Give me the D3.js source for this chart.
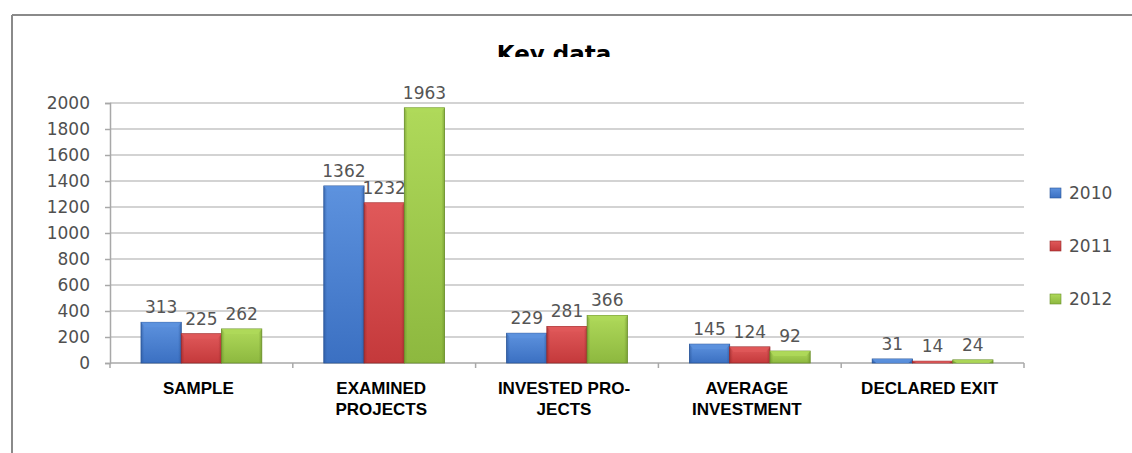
<!DOCTYPE html>
<html>
<head>
<meta charset="utf-8">
<script src="https://cdn.jsdelivr.net/npm/d3@7"></script>
<style>
  body { margin: 0; background: #fff; }
  svg { display: block; }
</style>
</head>
<body>
<div id="chart"></div>
<script>
// chart data
const categories = [["SAMPLE"], ["EXAMINED", "PROJECTS"], ["INVESTED PRO-", "JECTS"], ["AVERAGE", "INVESTMENT"], ["DECLARED EXIT"]];
const years = ["2010", "2011", "2012"];
const values2010 = [313, 1362, 229, 145, 31];
const values2011 = [225, 1232, 281, 124, 14];
const values2012 = [262, 1963, 366, 92, 24];
const yTicks = [0, 200, 400, 600, 800, 1000, 1200, 1400, 1600, 1800, 2000];

const width = 1132, height = 453;
const plot = { left: 110, right: 1024, top: 103, bottom: 363 };

// colors per year: [base, light, dark]
const colors = {
  "2010": ["#3b70c2", "#5d92de", "#2a5598"],
  "2011": ["#c4393b", "#e0595a", "#95282a"],
  "2012": ["#8db83f", "#afd95a", "#6a8f2b"]
};

const series = [values2010, values2011, values2012];

const svg = d3.select("#chart").append("svg")
  .attr("width", width)
  .attr("height", height);

const defs = svg.append("defs");
years.forEach(function (y) {
  const c = colors[y];
  const g = defs.append("linearGradient").attr("id", "grad" + y)
    .attr("x1", 0).attr("y1", 0).attr("x2", 0).attr("y2", 1);
  g.append("stop").attr("offset", "0%").attr("stop-color", c[1]);
  g.append("stop").attr("offset", "100%").attr("stop-color", c[0]);
  const h = defs.append("linearGradient").attr("id", "side" + y)
    .attr("x1", 0).attr("y1", 0).attr("x2", 1).attr("y2", 0);
  h.append("stop").attr("offset", "0%").attr("stop-color", c[2]).attr("stop-opacity", 0.6);
  h.append("stop").attr("offset", "8%").attr("stop-color", c[2]).attr("stop-opacity", 0);
  h.append("stop").attr("offset", "92%").attr("stop-color", c[2]).attr("stop-opacity", 0);
  h.append("stop").attr("offset", "100%").attr("stop-color", c[2]).attr("stop-opacity", 0.6);
});
defs.append("clipPath").attr("id", "titleClip")
  .append("rect").attr("x", 0).attr("y", 0).attr("width", width).attr("height", 57);

// outer frame
svg.append("line").attr("x1", 12).attr("x2", width).attr("y1", 15).attr("y2", 15)
  .attr("stroke", "#8a8a8a").attr("stroke-width", 2);
svg.append("line").attr("x1", 12).attr("x2", 12).attr("y1", 15).attr("y2", height)
  .attr("stroke", "#8a8a8a").attr("stroke-width", 2);

// title (cut at the bottom as in the original)
svg.append("text")
  .attr("x", 554).attr("y", 62)
  .attr("clip-path", "url(#titleClip)")
  .attr("text-anchor", "middle")
  .attr("font-family", "DejaVu Sans")
  .attr("font-weight", "bold")
  .attr("font-size", "23px")
  .attr("fill", "#000")
  .text("Key data");

const yScale = d3.scaleLinear().domain([0, 2000]).range([plot.bottom, plot.top]);
const xScale = d3.scaleBand().domain(d3.range(categories.length)).range([plot.left, plot.right]).paddingInner(0).paddingOuter(0);
const inner = d3.scaleBand().domain(years).range([0, xScale.bandwidth()]).paddingInner(0).paddingOuter(0.77);

// gridlines
svg.append("g").selectAll("line")
  .data(yTicks.filter(d => d > 0))
  .join("line")
    .attr("x1", plot.left).attr("x2", plot.right)
    .attr("y1", d => yScale(d)).attr("y2", d => yScale(d))
    .attr("stroke", "#c4c4c4").attr("stroke-width", 1.5);

// y axis
const yAxis = svg.append("g")
  .attr("transform", "translate(" + plot.left + ",0)")
  .call(d3.axisLeft(yScale).tickValues(yTicks).tickFormat(d3.format("d")).tickSize(5).tickPadding(15));
yAxis.select(".domain").attr("stroke", "#a8a8a8").attr("stroke-width", 1.5);
yAxis.selectAll(".tick line").attr("stroke", "#a8a8a8").attr("stroke-width", 1.5);
yAxis.selectAll(".tick text")
  .attr("font-family", "DejaVu Sans").attr("font-size", "17px").attr("fill", "#505050");

// x axis
const xAxis = svg.append("g")
  .attr("transform", "translate(0," + plot.bottom + ")");
xAxis.append("line").attr("x1", plot.left).attr("x2", plot.right)
  .attr("stroke", "#a8a8a8").attr("stroke-width", 1.5);
xAxis.selectAll("line.tick")
  .data(d3.range(categories.length + 1))
  .join("line")
    .attr("class", "tick")
    .attr("x1", d => d < categories.length ? xScale(d) : plot.right)
    .attr("x2", d => d < categories.length ? xScale(d) : plot.right)
    .attr("y1", 0).attr("y2", 5)
    .attr("stroke", "#a8a8a8").attr("stroke-width", 1.5);

// category labels
const catLabels = svg.append("g").selectAll("text")
  .data(categories)
  .join("text")
    .attr("text-anchor", "middle")
    .attr("font-family", "Liberation Sans, Arial")
    .attr("font-weight", "bold")
    .attr("font-size", "17px")
    .attr("fill", "#000");
catLabels.each(function (lines, i) {
  d3.select(this).selectAll("tspan")
    .data(lines)
    .join("tspan")
      .attr("x", xScale(i) + xScale.bandwidth() / 2 - 3)
      .attr("y", (d, j) => 394 + j * 21)
      .text(d => d);
});

// bars
years.forEach(function (y, s) {
  const g = svg.append("g");
  const vals = series[s];
  g.selectAll("rect.bar")
    .data(vals)
    .join("rect")
      .attr("class", "bar")
      .attr("x", (d, i) => xScale(i) + inner(y))
      .attr("y", d => yScale(d))
      .attr("width", inner.bandwidth())
      .attr("height", d => yScale(0) - yScale(d))
      .attr("fill", "url(#grad" + y + ")")
      .attr("stroke", colors[y][2])
      .attr("stroke-width", 0.8);
  g.selectAll("rect.side")
    .data(vals)
    .join("rect")
      .attr("class", "side")
      .attr("x", (d, i) => xScale(i) + inner(y))
      .attr("y", d => yScale(d))
      .attr("width", inner.bandwidth())
      .attr("height", d => yScale(0) - yScale(d))
      .attr("fill", "url(#side" + y + ")");
  // bevelled top cap
  g.selectAll("path.cap")
    .data(vals)
    .join("path")
      .attr("class", "cap")
      .attr("d", function (d, i) {
        const x0 = xScale(i) + inner(y), x1 = x0 + inner.bandwidth();
        const y0 = yScale(d);
        const h = Math.min(5, yScale(0) - y0);
        return "M" + x0 + "," + y0 + "L" + x1 + "," + y0 + "L" + (x1 - 4) + "," + (y0 + h) + "L" + (x0 + 4) + "," + (y0 + h) + "Z";
      })
      .attr("fill", colors[y][1])
      .attr("opacity", 0.8);
  // value labels
  g.selectAll("text.val")
    .data(vals)
    .join("text")
      .attr("class", "val")
      .attr("x", (d, i) => xScale(i) + inner(y) + inner.bandwidth() / 2)
      .attr("y", d => yScale(d) - 9)
      .attr("text-anchor", "middle")
      .attr("font-family", "DejaVu Sans")
      .attr("font-size", "17px")
      .attr("fill", "#555")
      .text(d => d);
});

// legend
const legendY = d3.scalePoint().domain(years).range([193, 299]);
const legend = svg.append("g");
legend.selectAll("rect")
  .data(years)
  .join("rect")
    .attr("x", 1050)
    .attr("y", d => legendY(d) - 5)
    .attr("width", 11).attr("height", 10)
    .attr("fill", d => "url(#grad" + d + ")")
    .attr("stroke", d => colors[d][2]).attr("stroke-width", 0.6);
legend.selectAll("text")
  .data(years)
  .join("text")
    .attr("x", 1069)
    .attr("y", d => legendY(d))
    .attr("dy", "0.36em")
    .attr("font-family", "DejaVu Sans")
    .attr("font-size", "17px")
    .attr("fill", "#505050")
    .text(d => d);
</script>
</body>
</html>
